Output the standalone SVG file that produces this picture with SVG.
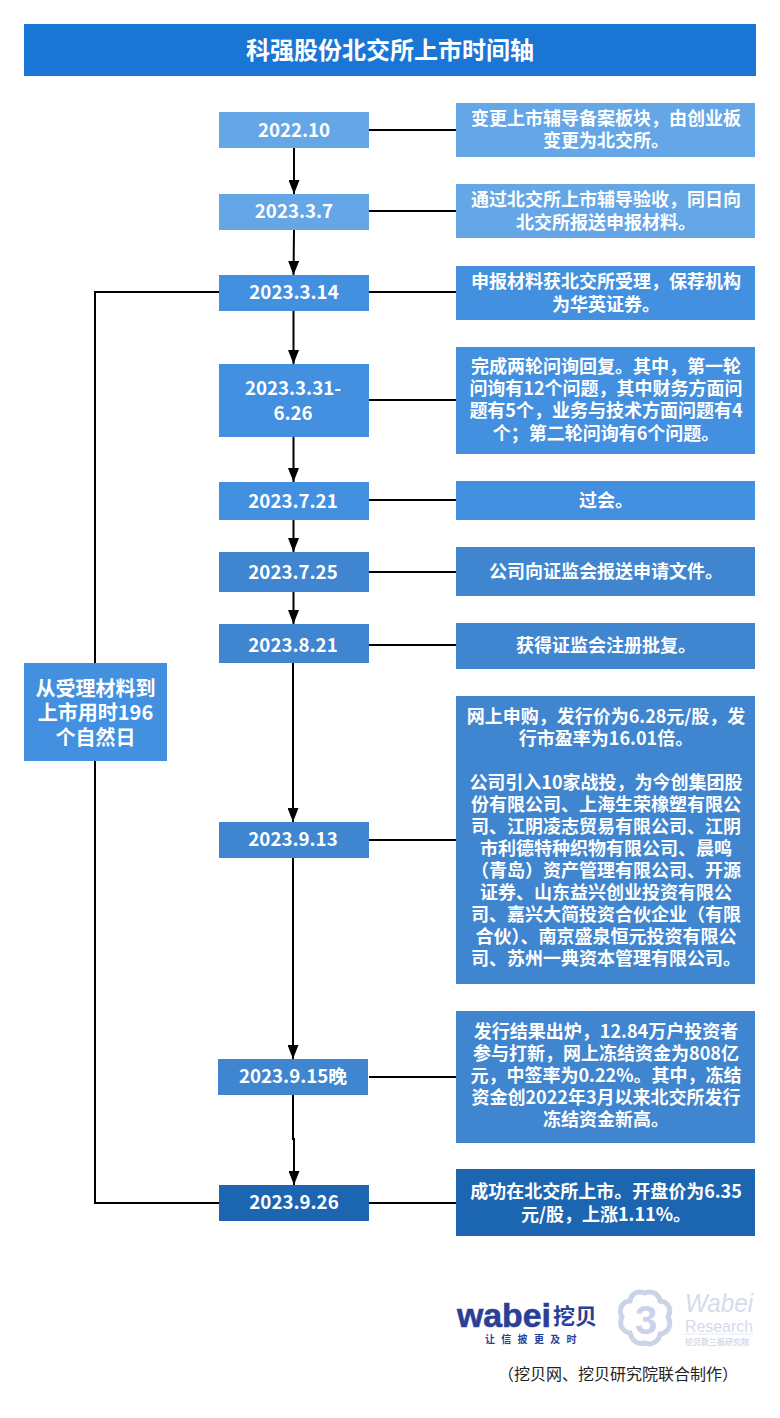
<svg xmlns="http://www.w3.org/2000/svg" width="780" height="1418" viewBox="0 0 780 1418">
<style>
text{font-family:"Noto Sans CJK SC","Noto Sans",sans-serif;font-weight:700;fill:#fff;text-anchor:middle}
.d{font-size:18.700px}.r{font-size:18px}
.c1{fill:#64a6e6}.c2{fill:#4390e0}.c3{fill:#3f85cf}.c4{fill:#1c66b1}
.l{fill:none;stroke:#000;stroke-width:2}
</style>
<defs><clipPath id="clip"><rect x="680" y="1285" width="73.500" height="70"/></clipPath>
<marker id="arrow" markerWidth="14" markerHeight="11" refX="14" refY="5.500" orient="auto" markerUnits="userSpaceOnUse" viewBox="0 0 14 11"><path d="M0 0L14 5.500L0 11Z"/></marker></defs>
<rect width="780" height="1418" fill="#fff"/>
<g id="connectors">
<path class="l" d="M369 130H456M369 211H456M369 292H456M369 400H456M369 500H456M369 572H456M369 645H456M369 840H456M369 1077H456M369 1203H456"/>
<path class="l" d="M219 292H95V1203H219"/>
<path class="l" marker-end="url(#arrow)" d="M294 148V194"/>
<path class="l" marker-end="url(#arrow)" d="M294 230L293.500 275"/>
<path class="l" marker-end="url(#arrow)" d="M293.500 311V364"/>
<path class="l" marker-end="url(#arrow)" d="M293.500 437V482"/>
<path class="l" marker-end="url(#arrow)" d="M293.500 520V552"/>
<path class="l" marker-end="url(#arrow)" d="M293.500 592V624"/>
<path class="l" marker-end="url(#arrow)" d="M293 663V822"/>
<path class="l" marker-end="url(#arrow)" d="M293 858V1059"/>
<path class="l" marker-end="url(#arrow)" d="M293 1095V1139H294V1185"/>
</g>
<g id="title"><rect x="24" y="24" width="732" height="52" fill="#1976d4"/><text x="390" y="59" font-size="24">科强股份北交所上市时间轴</text></g>
<g id="n1"><rect class="c1" x="219" y="112" width="150" height="36"/><text class="d" x="294" y="137">2022.10</text></g>
<g id="n2"><rect class="c1" x="219" y="194" width="150" height="36"/><text class="d" x="294" y="218">2023.3.7</text></g>
<g id="n3"><rect class="c2" x="219" y="275" width="150" height="36"/><text class="d" x="294" y="299">2023.3.14</text></g>
<g id="n4"><rect class="c2" x="219" y="364" width="150" height="73"/><text class="d"><tspan x="293" y="395">2023.3.31-</tspan><tspan x="293" y="420">6.26</tspan></text></g>
<g id="n5"><rect class="c2" x="219" y="482" width="150" height="38"/><text class="d" x="293" y="508">2023.7.21</text></g>
<g id="n6"><rect class="c3" x="219" y="552" width="150" height="40"/><text class="d" x="293" y="579">2023.7.25</text></g>
<g id="n7"><rect class="c3" x="219" y="624" width="150" height="39"/><text class="d" x="293" y="652">2023.8.21</text></g>
<g id="n8"><rect class="c3" x="219" y="822" width="150" height="36"/><text class="d" x="293" y="846">2023.9.13</text></g>
<g id="n9"><rect class="c3" x="218" y="1059" width="150" height="36"/><text class="d" x="293" y="1083">2023.9.15晚</text></g>
<g id="n10"><rect class="c4" x="219" y="1185" width="150" height="36"/><text class="d" x="294" y="1209">2023.9.26</text></g>
<g id="r1"><rect class="c1" x="456" y="103" width="299" height="54"/><text class="r"><tspan x="606" y="125">变更上市辅导备案板块，由创业板</tspan><tspan x="606" y="147">变更为北交所。</tspan></text></g>
<g id="r2"><rect class="c1" x="456" y="184" width="299" height="54"/><text class="r"><tspan x="606" y="206">通过北交所上市辅导验收，同日向</tspan><tspan x="606" y="229">北交所报送申报材料。</tspan></text></g>
<g id="r3"><rect class="c2" x="456" y="266" width="299" height="54"/><text class="r"><tspan x="606" y="288">申报材料获北交所受理，保荐机构</tspan><tspan x="606" y="311">为华英证券。</tspan></text></g>
<g id="r4"><rect class="c2" x="456" y="347" width="299" height="107"/><text class="r"><tspan x="606" y="373">完成两轮问询回复。其中，第一轮</tspan><tspan x="606" y="395">问询有12个问题，其中财务方面问</tspan><tspan x="606" y="417">题有5个，业务与技术方面问题有4</tspan><tspan x="606" y="440">个；第二轮问询有6个问题。</tspan></text></g>
<g id="r5"><rect class="c2" x="456" y="481" width="299" height="39"/><text class="r" x="606" y="507">过会。</text></g>
<g id="r6"><rect class="c3" x="456" y="547" width="299" height="49"/><text class="r" x="606" y="578">公司向证监会报送申请文件。</text></g>
<g id="r7"><rect class="c3" x="456" y="623" width="299" height="46"/><text class="r" x="606" y="652">获得证监会注册批复。</text></g>
<g id="r8"><rect class="c3" x="456" y="696" width="299" height="288"/>
<text class="r"><tspan x="606" y="723">网上申购，发行价为6.28元/股，发</tspan><tspan x="606" y="745">行市盈率为16.01倍。</tspan></text>
<text class="r"><tspan x="606" y="789">公司引入10家战投，为今创集团股</tspan><tspan x="606" y="811">份有限公司、上海生荣橡塑有限公</tspan><tspan x="606" y="833">司、江阴凌志贸易有限公司、江阴</tspan><tspan x="606" y="855">市利德特种织物有限公司、晨鸣</tspan><tspan x="606" y="877">（青岛）资产管理有限公司、开源</tspan><tspan x="606" y="899">证券、山东益兴创业投资有限公</tspan><tspan x="606" y="921">司、嘉兴大简投资合伙企业（有限</tspan><tspan x="606" y="943">合伙）、南京盛泉恒元投资有限公</tspan><tspan x="606" y="965">司、苏州一典资本管理有限公司。</tspan></text></g>
<g id="r9"><rect class="c3" x="456" y="1011" width="299" height="132"/><text class="r"><tspan x="606" y="1038">发行结果出炉，12.84万户投资者</tspan><tspan x="606" y="1060">参与打新，网上冻结资金为808亿</tspan><tspan x="606" y="1082">元，中签率为0.22%。其中，冻结</tspan><tspan x="606" y="1104">资金创2022年3月以来北交所发行</tspan><tspan x="606" y="1126">冻结资金新高。</tspan></text></g>
<g id="r10"><rect class="c4" x="456" y="1169" width="299" height="67"/><text class="r"><tspan x="606" y="1198">成功在北交所上市。开盘价为6.35</tspan><tspan x="606" y="1221">元/股，上涨1.11%。</tspan></text></g>
<g id="side"><rect class="c2" x="24" y="663" width="143" height="98"/><text font-size="20"><tspan x="95.500" y="696">从受理材料到</tspan><tspan x="95.500" y="720">上市用时196</tspan><tspan x="95.500" y="745">个自然日</tspan></text></g>
<g id="logo">
<text x="457" y="1327" font-size="34" textLength="94" lengthAdjust="spacingAndGlyphs" style="text-anchor:start;font-family:'Liberation Sans',sans-serif;fill:#2b3f96;stroke:#2b3f96;stroke-width:.6">wabei</text>
<text x="553" y="1324" font-size="22" style="text-anchor:start;fill:#2b3f96">挖贝</text>
<text x="485" y="1343" font-size="10" style="text-anchor:start;fill:#2b3f96;letter-spacing:6.300px">让信披更及时</text>
<path d="M645 1293c-8-3-14 1-15 8-8 0-12 9-8 16-3 7-1 14 8 16 2 8 8 12 15 10 7 3 14-2 15-9 9-1 12-10 8-17 4-7 1-15-8-16-1-7-8-11-15-8Z" fill="none" stroke="#cbd3e8" stroke-width="5"/>
<text x="646" y="1334" font-size="40" style="fill:#cbd3e8;font-family:'Liberation Sans',sans-serif">3</text>
<g clip-path="url(#clip)">
<text x="685" y="1312" font-size="26" textLength="68" lengthAdjust="spacingAndGlyphs" style="text-anchor:start;fill:#d5dbec;font-weight:400;font-style:italic;font-family:'Liberation Sans',sans-serif">Wabei</text>
<text x="685" y="1332" font-size="17" textLength="68" lengthAdjust="spacingAndGlyphs" style="text-anchor:start;fill:#d5dbec;font-weight:400;font-family:'Liberation Sans',sans-serif">Research</text>
</g>
<path d="M684 1334H753" stroke="#e6e9f3" stroke-width="1"/>
<text x="685" y="1345" font-size="8" style="text-anchor:start;fill:#d5dbec">挖贝新三板研究院</text>
</g>
<text x="618" y="1380" font-size="16" style="fill:#222;font-weight:400">（挖贝网、挖贝研究院联合制作）</text>
</svg>
